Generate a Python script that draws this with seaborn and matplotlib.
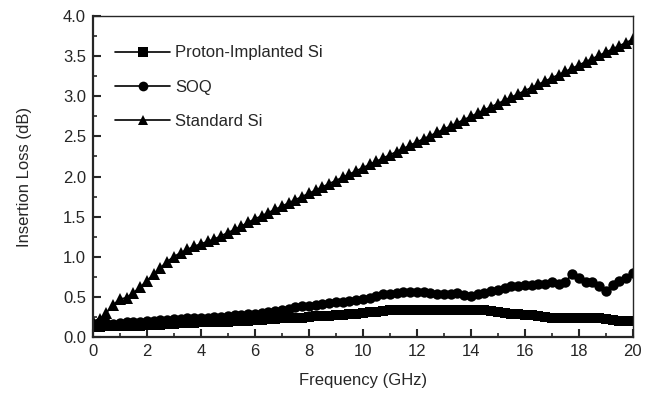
import numpy as np
import pandas as pd
import matplotlib
matplotlib.use("Agg")
import matplotlib.pyplot as plt
from matplotlib.ticker import MultipleLocator
import seaborn as sns

# frequency grid (GHz), 0.25 GHz steps
freq = [i * 0.25 for i in range(81)]

proton_si = [0.12, 0.12, 0.13, 0.13, 0.13, 0.14, 0.14, 0.14, 0.15, 0.15,
             0.15, 0.16, 0.16, 0.17, 0.17, 0.17, 0.18, 0.18, 0.19, 0.19,
             0.19, 0.20, 0.20, 0.20, 0.21, 0.21, 0.22, 0.22, 0.23, 0.23,
             0.24, 0.24, 0.25, 0.26, 0.26, 0.26, 0.27, 0.27, 0.28, 0.28,
             0.30, 0.31, 0.31, 0.32, 0.33, 0.34, 0.34, 0.34, 0.34, 0.34,
             0.34, 0.34, 0.34, 0.34, 0.34, 0.34, 0.34, 0.34, 0.33, 0.32,
             0.31, 0.30, 0.29, 0.28, 0.27, 0.27, 0.26, 0.25, 0.24, 0.24,
             0.23, 0.23, 0.23, 0.23, 0.24, 0.23, 0.22, 0.21, 0.20, 0.20,
             0.20]

soq = [0.15, 0.18, 0.17, 0.16, 0.17, 0.18, 0.18, 0.19, 0.20, 0.20,
       0.21, 0.21, 0.22, 0.22, 0.23, 0.23, 0.24, 0.24, 0.25, 0.25,
       0.26, 0.27, 0.27, 0.28, 0.29, 0.30, 0.31, 0.32, 0.33, 0.35,
       0.37, 0.38, 0.39, 0.40, 0.41, 0.42, 0.43, 0.44, 0.45, 0.46,
       0.47, 0.49, 0.51, 0.53, 0.54, 0.55, 0.56, 0.56, 0.56, 0.56,
       0.55, 0.54, 0.53, 0.54, 0.55, 0.52, 0.51, 0.53, 0.55, 0.57,
       0.59, 0.61, 0.63, 0.64, 0.65, 0.65, 0.66, 0.66, 0.68, 0.66,
       0.69, 0.78, 0.74, 0.68, 0.69, 0.63, 0.57, 0.65, 0.70, 0.74,
       0.80]

standard_si = [0.20, 0.22, 0.30, 0.40, 0.47, 0.49, 0.55, 0.62, 0.70, 0.78,
               0.86, 0.94, 1.00, 1.05, 1.09, 1.13, 1.16, 1.19, 1.22, 1.26,
               1.30, 1.34, 1.38, 1.43, 1.47, 1.51, 1.55, 1.59, 1.63, 1.67,
               1.71, 1.75, 1.79, 1.83, 1.87, 1.91, 1.95, 1.99, 2.03, 2.07,
               2.11, 2.15, 2.19, 2.23, 2.27, 2.31, 2.35, 2.39, 2.43, 2.47,
               2.51, 2.55, 2.59, 2.63, 2.67, 2.71, 2.75, 2.79, 2.83, 2.87,
               2.91, 2.95, 2.99, 3.03, 3.07, 3.11, 3.15, 3.19, 3.23, 3.27,
               3.31, 3.35, 3.39, 3.43, 3.47, 3.51, 3.55, 3.59, 3.63, 3.67,
               3.71]

series = {
    "Proton-Implanted Si": (proton_si, "s", 7.5),
    "SOQ": (soq, "o", 7.5),
    "Standard Si": (standard_si, "^", 8),
}

sns.set_style("ticks")
plt.rcParams["font.family"] = ["Liberation Sans", "DejaVu Sans"]

fig = plt.figure(figsize=(6.45, 3.94), dpi=100)
ax = fig.add_axes([0.144, 0.145, 0.837, 0.814])

for name, (vals, mk, ms) in series.items():
    df = pd.DataFrame({"Frequency": freq, "Loss": vals})
    sns.lineplot(data=df, x="Frequency", y="Loss", ax=ax, color="black",
                 marker=mk, markersize=ms, markeredgewidth=0, linewidth=1.2,
                 label=name)

ax.set_xlim(0, 20)
ax.set_ylim(0, 4.0)
ax.xaxis.set_major_locator(MultipleLocator(2))
ax.xaxis.set_minor_locator(MultipleLocator(1))
ax.yaxis.set_major_locator(MultipleLocator(0.5))
ax.yaxis.set_minor_locator(MultipleLocator(0.25))
ax.yaxis.set_major_formatter(matplotlib.ticker.FormatStrFormatter("%.1f"))
ax.tick_params(which="major", direction="in", length=6, width=1.5,
               labelsize=12, pad=5)
ax.tick_params(which="minor", direction="in", length=3, width=1.2)
ax.tick_params(top=False, right=False, which="both")

for side in ["left", "bottom"]:
    ax.spines[side].set_linewidth(1.6)
for side in ["top", "right"]:
    ax.spines[side].set_linewidth(1.0)
    ax.spines[side].set_visible(True)

ax.set_xlabel("Frequency (GHz)", fontsize=12, labelpad=10)
ax.set_ylabel("Insertion Loss (dB)", fontsize=12, labelpad=22)

leg = ax.legend(loc="upper left", frameon=False, fontsize=12,
                handlelength=3.3, labelspacing=1.15, handletextpad=0.3,
                borderaxespad=0.3, bbox_to_anchor=(0.02, 0.945))
for h in leg.legend_handles:
    h.set_markersize(7)

fig.savefig("out.png", dpi=100)
